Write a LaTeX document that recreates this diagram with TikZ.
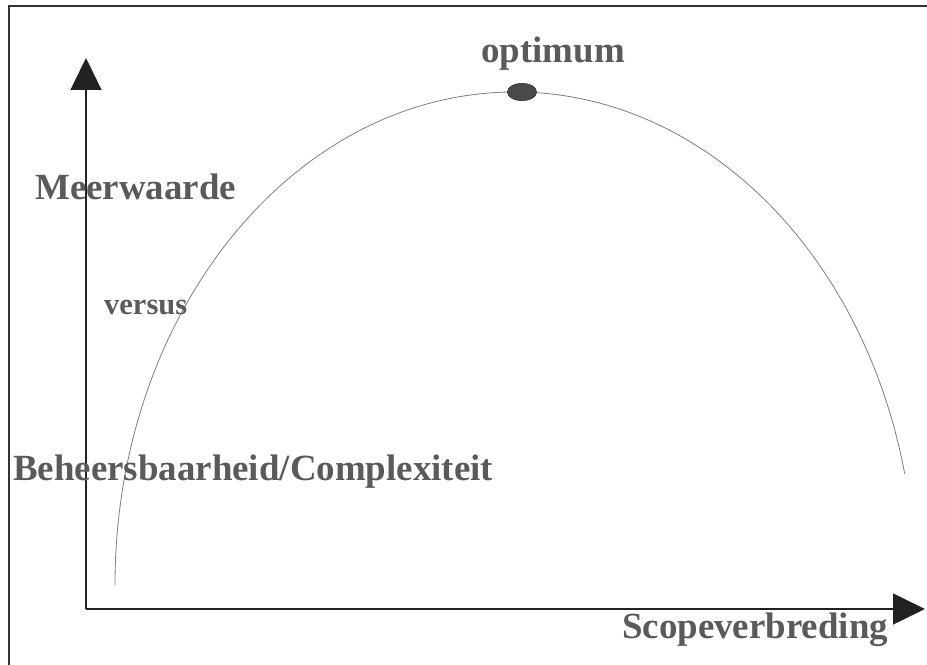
\documentclass[tikz,border=0pt]{standalone}
\usepackage{fontspec}
\setmainfont{Liberation Serif}
\usetikzlibrary{arrows.meta,shapes.geometric}
\definecolor{framegray}{HTML}{333333}
\definecolor{axisdark}{HTML}{222222}
\definecolor{labelgray}{HTML}{5A5A5A}
\definecolor{curvegray}{HTML}{808080}
\definecolor{optgray}{HTML}{4A4A4A}

\begin{document}
\begin{tikzpicture}[x=0.03cm,y=0.03cm,
      lbl/.style={inner sep=0pt,anchor=base west,labelgray,
                  font=\bfseries\fontsize{31.5}{37}\selectfont},
      axis/.style={-{Triangle[length=0.96cm,width=0.93cm]},axisdark,line width=1.2pt},
      curve/.style={curvegray,line width=0.7pt}]
    \useasboundingbox (0,0) rectangle (927,664);
    % frame
    \draw[framegray,line width=2.5pt] (9,-20) -- (9,658) -- (960,658);
    % axes
    \coordinate (O) at (86,55);
    \coordinate (ytip) at (86,606);
    \coordinate (xtip) at (925,55);
    \draw[axis] (O) -- (ytip);
    \draw[axis] (O) -- (xtip);
    % curve
    \coordinate (cstart) at (115,79);
    \draw[curve] (cstart) arc[start angle=180,end angle=13,x radius=12cm,y radius=14.79cm]
      coordinate (cend);
    \node[ellipse,fill=optgray,draw=axisdark,inner sep=0pt,
          minimum width=0.88cm,minimum height=0.52cm] (opt) at (522,572) {};
    % labels
    \node[lbl,anchor=base] (optlbl) at (553,601) {optimum};
    \node[lbl] (meer) at (35,464) {Meerwaarde};
    \node[lbl,font=\bfseries\fontsize{26}{31}\selectfont] (vs) at (104,349) {versus};
    \node[lbl] (beh) at (13,184) {Beheersbaarheid/Complexiteit};
    \node[lbl] (scope) at (622,26) {Scopeverbreding};
  \end{tikzpicture}
\end{document}
